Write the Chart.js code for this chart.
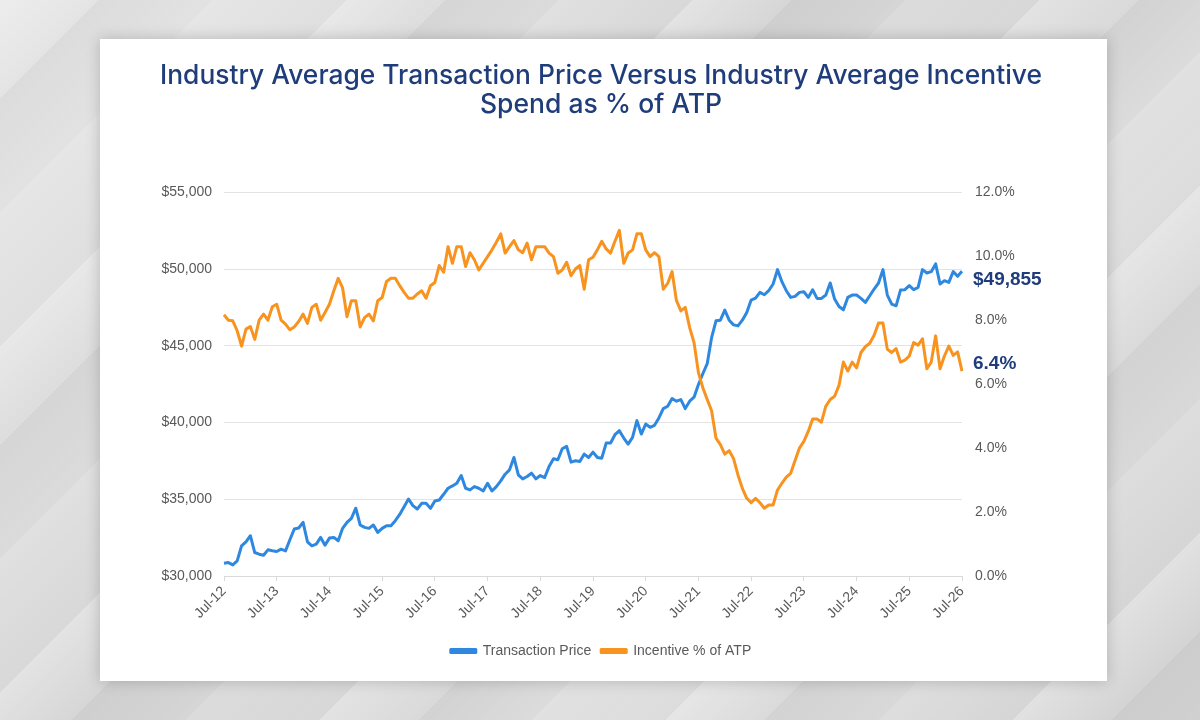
<!DOCTYPE html>
<html>
<head>
<meta charset="utf-8">
<script src="https://cdn.jsdelivr.net/npm/chart.js@4.4.1/dist/chart.umd.min.js"></script>
<style>
  html, body { margin: 0; padding: 0; }
  body {
    width: 1200px;
    height: 720px;
    overflow: hidden;
    position: relative;
    background-color: #dadada;
    background-image:
      repeating-linear-gradient(135deg, rgba(255,255,255,0.28) 0px, rgba(255,255,255,0) 70px, rgba(0,0,0,0.035) 70px, rgba(0,0,0,0) 150px, rgba(255,255,255,0.14) 150px, rgba(255,255,255,0) 245px),
      linear-gradient(135deg, #e6e6e6 0%, #d5d5d5 45%, #dddddd 70%, #d2d2d2 100%);
  }
  .card {
    position: absolute;
    left: 100px;
    top: 39px;
    width: 1007px;
    height: 642px;
    background: #fff;
    box-shadow: 0 0 14px rgba(0,0,0,0.2);
  }
  canvas { display: block; }
</style>
</head>
<body>
<div class="card">
  <canvas id="chart" width="1007" height="642"></canvas>
</div>
<script>
// Chart data
const startYear = 2012;
const monthNames = ['Jan', 'Feb', 'Mar', 'Apr', 'May', 'Jun', 'Jul', 'Aug', 'Sep', 'Oct', 'Nov', 'Dec'];
const titleLines = [
    'Industry Average Transaction Price Versus Industry Average Incentive',
    'Spend as % of ATP'
];

// Monthly average transaction price, Jul-12 .. Jul-26
const transactionPrice = [
    30831, 30874, 30721, 30984, 31967, 32230, 32623, 31530, 31421, 31355, 31705, 31640,
    31596, 31749, 31640, 32361, 33060, 33126, 33498, 32230, 31967, 32077, 32514, 32011,
    32470, 32514, 32295, 33104, 33498, 33760, 34416, 33323, 33170, 33104, 33323, 32842,
    33104, 33279, 33279, 33607, 34012, 34516, 35020, 34582, 34364, 34735, 34735, 34407,
    34887, 34953, 35324, 35717, 35869, 36044, 36546, 35717, 35608, 35826, 35717, 35542,
    36044, 35542, 35826, 36197, 36633, 36917, 37724, 36590, 36328, 36481, 36699, 36328,
    36546, 36415, 37135, 37637, 37571, 38291, 38444, 37418, 37506, 37462, 37942, 37723,
    38072, 37723, 37679, 38661, 38661, 39207, 39469, 38989, 38596, 39032, 40123, 39250,
    39905, 39687, 39818, 40298, 40908, 41061, 41563, 41388, 41497, 40908, 41388, 41650,
    42480, 43178, 43832, 45534, 46624, 46668, 47322, 46668, 46363, 46297, 46668, 47170,
    47977, 48108, 48479, 48326, 48588, 49024, 49962, 49177, 48588, 48152, 48217, 48479,
    48523, 48152, 48653, 48086, 48086, 48305, 49090, 48042, 47563, 47344, 48152, 48305,
    48305, 48086, 47824, 48261, 48697, 49090, 49962, 48305, 47715, 47606, 48632, 48653,
    48915, 48653, 48806, 49962, 49744, 49831, 50334, 49024, 49242, 49133, 49831, 49526,
    49855
];

// Monthly incentive spend as % of ATP
const incentivePct = [
    8.17, 8.00, 7.98, 7.67, 7.19, 7.72, 7.80, 7.40, 8.00, 8.19, 8.00, 8.42,
    8.50, 8.00, 7.88, 7.70, 7.79, 7.96, 8.19, 7.90, 8.40, 8.50, 8.00, 8.24,
    8.50, 8.92, 9.31, 9.01, 8.11, 8.61, 8.61, 7.79, 8.08, 8.19, 7.98, 8.61,
    8.71, 9.21, 9.31, 9.31, 9.08, 8.87, 8.69, 8.69, 8.82, 8.92, 8.69, 9.08,
    9.18, 9.71, 9.50, 10.30, 9.78, 10.30, 10.30, 9.68, 10.11, 9.89, 9.57, 9.78,
    9.99, 10.20, 10.44, 10.70, 10.10, 10.30, 10.49, 10.20, 10.11, 10.41, 9.89, 10.30,
    10.30, 10.30, 10.10, 9.99, 9.47, 9.57, 9.81, 9.39, 9.60, 9.71, 8.97, 9.89,
    9.97, 10.20, 10.47, 10.23, 10.10, 10.47, 10.81, 9.78, 10.10, 10.20, 10.70, 10.70,
    10.20, 9.99, 10.11, 9.99, 8.97, 9.15, 9.52, 8.61, 8.29, 8.40, 7.77, 7.30,
    6.36, 5.89, 5.52, 5.17, 4.31, 4.11, 3.81, 3.92, 3.67, 3.16, 2.74, 2.43,
    2.29, 2.43, 2.29, 2.12, 2.22, 2.22, 2.69, 2.90, 3.09, 3.21, 3.61, 4.00,
    4.21, 4.52, 4.91, 4.91, 4.81, 5.31, 5.52, 5.62, 5.96, 6.69, 6.41, 6.69,
    6.51, 6.99, 7.17, 7.28, 7.53, 7.91, 7.91, 7.09, 6.99, 7.11, 6.69, 6.75,
    6.88, 7.30, 7.22, 7.42, 6.48, 6.69, 7.51, 6.48, 6.88, 7.19, 6.90, 7.01,
    6.41
];

// Month labels, Jul-12 onwards
const monthLabels = transactionPrice.map((_, i) => {
    const m = (6 + i) % 12;
    const y = startYear + Math.floor((6 + i) / 12);
    return `${monthNames[m]}-${String(y).slice(2)}`;
});

const BLUE = '#2E88E0';
const ORANGE = '#F7931E';
const NAVY = '#1F3D7A';
const TICK_GRAY = '#595959';

const axisFont = { family: "'Liberation Sans', Arial, sans-serif", size: 14 };

// End-of-series value labels
const endLabels = {
    id: 'endLabels',
    afterDatasetsDraw(chart) {
        const { ctx, scales } = chart;
        const lastIdx = monthLabels.length - 1;
        const x = scales.x.getPixelForValue(lastIdx) + 11;
        const atp = transactionPrice[lastIdx];
        const pct = incentivePct[lastIdx];
        ctx.save();
        ctx.font = "bold 19px 'Liberation Sans', Arial, sans-serif";
        ctx.fillStyle = NAVY;
        ctx.textAlign = 'left';
        ctx.textBaseline = 'middle';
        ctx.fillText('$' + atp.toLocaleString('en-US'), x, scales.y.getPixelForValue(atp) + 9);
        ctx.fillText(pct.toFixed(1) + '%', x, scales.y1.getPixelForValue(pct) - 7);
        ctx.restore();
    }
};

new Chart(document.getElementById('chart'), {
    type: 'line',
    data: {
        labels: monthLabels,
        datasets: [
            {
                label: 'Transaction Price',
                data: transactionPrice,
                yAxisID: 'y',
                borderColor: BLUE,
                backgroundColor: BLUE,
                borderWidth: 3,
                pointRadius: 0,
                tension: 0,
                borderJoinStyle: 'round',
                order: 2
            },
            {
                label: 'Incentive % of ATP',
                data: incentivePct,
                yAxisID: 'y1',
                borderColor: ORANGE,
                backgroundColor: ORANGE,
                borderWidth: 3,
                pointRadius: 0,
                tension: 0,
                borderJoinStyle: 'round',
                order: 1
            }
        ]
    },
    options: {
        responsive: false,
        animation: false,
        layout: {
            padding: { left: 60, right: 65, top: 0, bottom: 13 }
        },
        plugins: {
            title: {
                display: true,
                text: titleLines,
                color: NAVY,
                font: { family: 'Inter', size: 26.5, weight: '500', lineHeight: 1.1 },
                padding: { top: 22, bottom: 73 }
            },
            legend: {
                position: 'bottom',
                labels: {
                    color: TICK_GRAY,
                    font: axisFont,
                    boxWidth: 25,
                    boxHeight: 3,
                    padding: 10,
                    sort: (a, b) => a.datasetIndex - b.datasetIndex
                }
            },
            tooltip: { enabled: false }
        },
        scales: {
            x: {
                type: 'category',
                offset: false,
                afterFit: (scale) => { scale.height = 58; },
                grid: {
                    drawOnChartArea: false,
                    drawTicks: true,
                    tickLength: 5,
                    color: '#d9d9d9'
                },
                border: { color: '#d9d9d9' },
                ticks: {
                    autoSkip: false,
                    maxRotation: 45,
                    minRotation: 45,
                    padding: 2,
                    color: TICK_GRAY,
                    font: axisFont,
                    callback: function (value, index) {
                        return index % 12 === 0 ? this.getLabelForValue(value) : null;
                    }
                }
            },
            y: {
                position: 'left',
                min: 30000,
                max: 55000,
                afterFit: (scale) => { scale.width = 64; },
                grid: { color: '#e3e3e3', drawTicks: false },
                border: { display: false },
                ticks: {
                    stepSize: 5000,
                    padding: 12,
                    color: TICK_GRAY,
                    font: axisFont,
                    callback: value => '$' + value.toLocaleString('en-US')
                }
            },
            y1: {
                position: 'right',
                min: 0,
                max: 12,
                afterFit: (scale) => { scale.width = 80; },
                grid: { drawOnChartArea: false, drawTicks: false },
                border: { display: false },
                ticks: {
                    stepSize: 2,
                    padding: 13,
                    color: TICK_GRAY,
                    font: axisFont,
                    callback: value => value.toFixed(1) + '%'
                }
            }
        }
    },
    plugins: [endLabels]
});
</script>
</body>
</html>
